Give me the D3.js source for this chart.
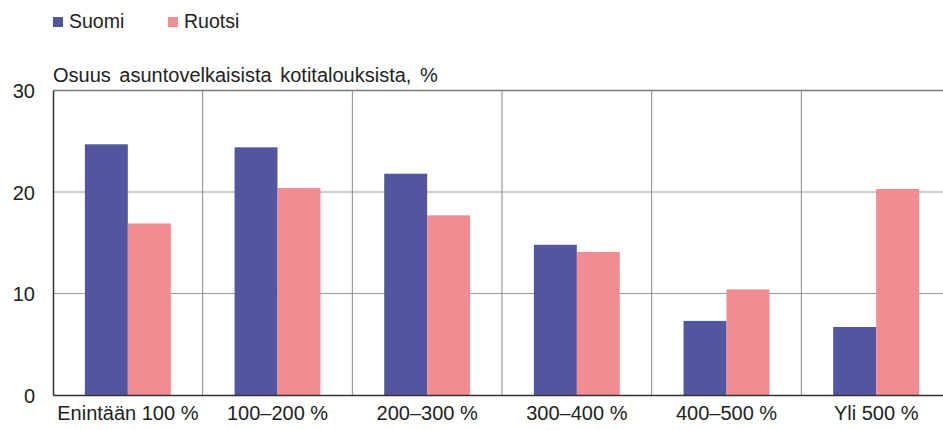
<!DOCTYPE html>
<html>
<head>
<meta charset="utf-8">
<script src="https://cdn.jsdelivr.net/npm/d3@7"></script>
<style>
    body { margin: 0; background: #fff; }
    svg { display: block; font-family: "Liberation Sans", Arial, sans-serif; }
    .tick text { fill: #222; }
</style>
</head>
<body>
<div id="chart"></div>
<script>
    const categories = ["Enintään 100 %", "100–200 %", "200–300 %", "300–400 %", "400–500 %", "Yli 500 %"];
    const seriesNames = ["Suomi", "Ruotsi"];
    const suomi = [24.7, 24.4, 21.8, 14.8, 7.3, 6.7];
    const ruotsi = [16.9, 20.4, 17.7, 14.1, 10.4, 20.3];
    const yTicks = [0, 10, 20, 30];
    const colors = ["#51569e", "#f08c92"];

    const width = 943;
    const height = 430;
    const margin = {top: 90.5, right: -8, bottom: 35, left: 53};
    const innerW = width - margin.left - margin.right;
    const innerH = height - margin.top - margin.bottom;

    const svg = d3.select('#chart')
        .append('svg')
        .attr('width', width)
        .attr('height', height);

    const g = svg.append('g')
        .attr('transform', `translate(${margin.left},${margin.top})`);

    // Scales
    const x0 = d3.scaleBand()
        .domain(categories)
        .range([0, innerW])
        .paddingInner(0)
        .paddingOuter(0);

    const x1 = d3.scaleBand()
        .domain(seriesNames)
        .range([x0.bandwidth() * 0.213, x0.bandwidth() * 0.787]);

    const y = d3.scaleLinear()
        .domain([0, 30])
        .range([innerH, 0]);

    // Horizontal grid
    g.selectAll('.hgrid')
        .data(yTicks.filter(d => d > 0))
        .enter().append('line')
        .attr('x1', 0)
        .attr('x2', innerW)
        .attr('y1', d => y(d))
        .attr('y2', d => y(d))
        .attr('stroke', d => d === 30 ? '#777' : '#999')
        .attr('stroke-width', d => d === 30 ? 1.5 : 1);

    // Vertical separators between categories
    g.selectAll('.vgrid')
        .data(categories.slice(1))
        .enter().append('line')
        .attr('x1', d => x0(d))
        .attr('x2', d => x0(d))
        .attr('y1', 0)
        .attr('y2', innerH)
        .attr('stroke', '#888')
        .attr('stroke-width', 1);

    // Bars
    const data = categories.map((c, i) => ({cat: c, values: [suomi[i], ruotsi[i]]}));

    const groups = g.selectAll('.group')
        .data(data)
        .enter().append('g')
        .attr('transform', d => `translate(${x0(d.cat)},0)`);

    groups.selectAll('rect')
        .data(d => d.values.map((v, j) => ({name: seriesNames[j], value: v, j})))
        .enter().append('rect')
        .attr('x', d => x1(d.name))
        .attr('width', x1.bandwidth())
        .attr('y', d => y(d.value))
        .attr('height', d => innerH - y(d.value))
        .attr('fill', d => colors[d.j]);

    // Y axis
    const yAxis = g.append('g')
        .call(d3.axisLeft(y).tickValues(yTicks).tickSize(0).tickPadding(18));
    yAxis.select('.domain').attr('stroke', '#333').attr('stroke-width', 1.5);
    yAxis.selectAll('text').style('font-size', '20px').attr('dy', '0.35em');

    // X axis
    const xAxis = g.append('g')
        .attr('transform', `translate(0,${innerH})`)
        .call(d3.axisBottom(x0).tickSize(0).tickPadding(11));
    xAxis.select('.domain').attr('stroke', '#333').attr('stroke-width', 1.5);
    xAxis.selectAll('text').style('font-size', '20px');

    // Axis title
    svg.append('text')
        .attr('x', 53)
        .attr('y', 82)
        .attr('fill', '#222')
        .style('font-size', '20px')
        .style('word-spacing', '3px')
        .text('Osuus asuntovelkaisista kotitalouksista, %');

    // Legend
    const legendX = [53, 168];
    const legend = svg.selectAll('.legend')
        .data(seriesNames)
        .enter().append('g')
        .attr('transform', (d, i) => `translate(${legendX[i]},17)`);
    legend.append('rect')
        .attr('width', 10)
        .attr('height', 10)
        .attr('fill', (d, i) => colors[i]);
    legend.append('text')
        .attr('x', 16)
        .attr('y', 10.5)
        .attr('fill', '#222')
        .style('font-size', '19.5px')
        .text(d => d);
</script>
</body>
</html>
